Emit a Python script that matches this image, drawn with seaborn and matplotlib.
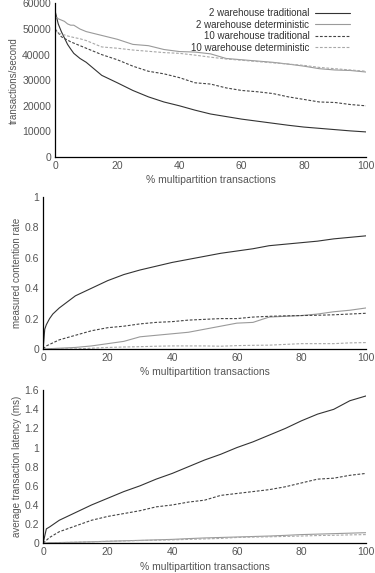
import matplotlib
matplotlib.use("Agg")
import matplotlib.pyplot as plt
import pandas as pd
import seaborn as sns

series_names = [
    "2 warehouse traditional",
    "2 warehouse deterministic",
    "10 warehouse traditional",
    "10 warehouse deterministic",
]

# throughput (transactions/second)
tp_x = [0, 1, 2, 3, 4, 5, 6, 8, 10, 15, 20, 25, 30, 35, 40, 45, 50, 55, 60, 65, 70, 75, 80, 85, 90, 95, 100]
tp_2trad = [57000, 52000, 49000, 46500, 44000, 42200, 40500, 38500, 37000, 31900, 29000, 26000, 23500, 21500, 20000,
            18300, 16800, 15800, 14800, 14000, 13200, 12400, 11700, 11200, 10700, 10200, 9800]
tp_2det = [55000, 54000, 53500, 53000, 52000, 51500, 51500, 50000, 49000, 47500, 46000, 44000, 43500, 42000, 41200,
           41000, 40300, 38500, 38000, 37500, 37000, 36300, 35500, 34500, 34000, 33800, 33200]
tp_10trad = [50000, 48500, 47000, 46300, 45700, 45000, 44500, 43500, 42500, 40000, 38000, 35500, 33500, 32500, 31000,
             29000, 28500, 27000, 26000, 25500, 24800, 23500, 22500, 21500, 21300, 20500, 20000]
tp_10det = [49500, 48500, 48000, 47700, 47300, 47000, 46700, 46200, 45500, 43000, 42500, 41800, 41300, 40800, 40500,
            39800, 39000, 38300, 37800, 37300, 36800, 36300, 35800, 35000, 34500, 34000, 33500]

# contention rate
ct_x = [0, 0.5, 1, 2, 3, 5, 10, 15, 20, 25, 30, 35, 40, 45, 50, 55, 60, 65, 70, 75, 80, 85, 90, 95, 100]
ct_2trad = [0, 0.13, 0.16, 0.20, 0.23, 0.27, 0.35, 0.40, 0.45, 0.49, 0.52, 0.545, 0.57, 0.59, 0.61, 0.63, 0.645,
            0.66, 0.68, 0.69, 0.70, 0.71, 0.725, 0.735, 0.745]
ct_2det = [0, 0, 0, 0.002, 0.003, 0.005, 0.01, 0.02, 0.035, 0.05, 0.08, 0.09, 0.10, 0.11, 0.13, 0.15, 0.17,
           0.175, 0.21, 0.215, 0.22, 0.23, 0.245, 0.255, 0.27]
ct_10trad = [0, 0.01, 0.02, 0.03, 0.04, 0.06, 0.09, 0.12, 0.14, 0.15, 0.165, 0.175, 0.18, 0.19, 0.195, 0.2, 0.2,
             0.21, 0.215, 0.218, 0.22, 0.222, 0.225, 0.23, 0.235]
ct_10det = [0, 0, 0, 0, 0, 0, 0, 0.005, 0.01, 0.013, 0.015, 0.018, 0.02, 0.02, 0.02, 0.018, 0.022, 0.024, 0.025,
            0.03, 0.035, 0.035, 0.035, 0.04, 0.042]

# latency (ms)
lt_x = [0, 1, 2, 5, 10, 15, 20, 25, 30, 35, 40, 45, 50, 55, 60, 65, 70, 75, 80, 85, 90, 95, 100]
lt_2trad = [0, 0.15, 0.17, 0.24, 0.32, 0.40, 0.47, 0.54, 0.60, 0.67, 0.73, 0.80, 0.87, 0.93, 1.00, 1.06, 1.13,
            1.20, 1.28, 1.35, 1.40, 1.49, 1.54]
lt_2det = [0, 0.003, 0.005, 0.007, 0.01, 0.015, 0.02, 0.025, 0.03, 0.035, 0.04, 0.048, 0.055, 0.06, 0.065, 0.07,
           0.075, 0.082, 0.09, 0.095, 0.1, 0.105, 0.11]
lt_10trad = [0, 0.03, 0.06, 0.12, 0.18, 0.24, 0.28, 0.31, 0.34, 0.38, 0.40, 0.43, 0.45, 0.50, 0.52, 0.54, 0.56,
             0.59, 0.63, 0.67, 0.68, 0.71, 0.73]
lt_10det = [0, 0.002, 0.004, 0.006, 0.01, 0.015, 0.02, 0.024, 0.028, 0.031, 0.035, 0.04, 0.045, 0.05, 0.06, 0.064,
            0.067, 0.071, 0.075, 0.08, 0.083, 0.087, 0.09]

colors = ["#333333", "#9a9a9a", "#444444", "#a8a8a8"]
styles = ["-", "-", (0, (2.5, 1.5)), (0, (2.5, 1.5))]
text_color = "#555555"

sns.set_style("white")
plt.rcParams["font.family"] = ["Liberation Sans", "DejaVu Sans"]
plt.rcParams["font.size"] = 7.5

fig = plt.figure(figsize=(3.75, 5.73), dpi=100)


def panel(rect, x, ys, ylim, yticks, ylabel, legend=False):
    ax = fig.add_axes(rect)
    for name, y, c, ls in zip(series_names, ys, colors, styles):
        df = pd.DataFrame({"x": x, "y": y})
        sns.lineplot(data=df, x="x", y="y", ax=ax, color=c, linestyle=ls, linewidth=0.8, label=name)
    ax.set_xlim(0, 100)
    ax.set_ylim(*ylim)
    ax.set_xticks([0, 20, 40, 60, 80, 100])
    ax.set_yticks(yticks)
    ax.set_yticklabels([f"{t:g}" for t in yticks])
    ax.set_xlabel("% multipartition transactions", color=text_color, fontsize=7.5, labelpad=3)
    ax.set_ylabel(ylabel, color=text_color, fontsize=7, labelpad=2)
    ax.tick_params(axis="both", colors=text_color, labelsize=7.5, length=0, pad=3)
    for s in ["top", "right"]:
        ax.spines[s].set_visible(False)
    for s in ["left", "bottom"]:
        ax.spines[s].set_color("black")
        ax.spines[s].set_linewidth(0.9)
    if legend:
        leg = ax.legend(loc="upper right", markerfirst=False, frameon=False, fontsize=7,
                        handlelength=3.6, labelspacing=0.15, borderaxespad=0.1, handletextpad=0.6,
                        bbox_to_anchor=(0.965, 1.0))
        for t in leg.get_texts():
            t.set_color("#333333")
    else:
        leg = ax.get_legend()
        if leg is not None:
            leg.remove()
    return ax


panel([0.147, 0.726, 0.829, 0.268], tp_x, [tp_2trad, tp_2det, tp_10trad, tp_10det],
      (0, 60000), [0, 10000, 20000, 30000, 40000, 50000, 60000], "transactions/second", legend=True)
panel([0.115, 0.391, 0.861, 0.265], ct_x, [ct_2trad, ct_2det, ct_10trad, ct_10det],
      (0, 1), [0, 0.2, 0.4, 0.6, 0.8, 1], "measured contention rate")
panel([0.115, 0.052, 0.861, 0.267], lt_x, [lt_2trad, lt_2det, lt_10trad, lt_10det],
      (0, 1.6), [0, 0.2, 0.4, 0.6, 0.8, 1, 1.2, 1.4, 1.6], "average transaction latency (ms)")

fig.savefig("out.png", dpi=100)
plt.close(fig)
